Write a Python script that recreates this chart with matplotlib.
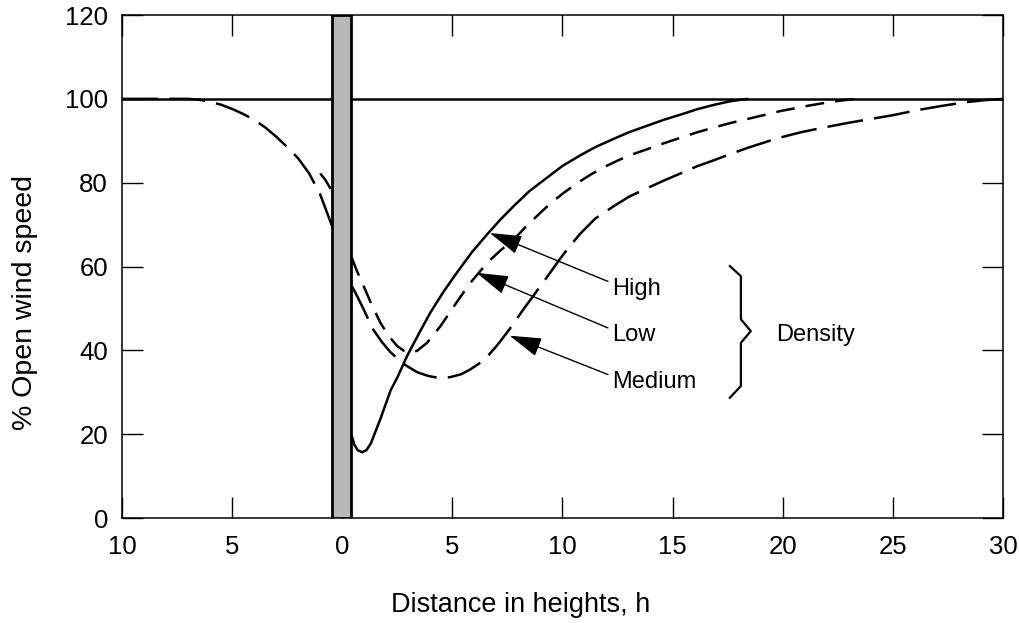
import numpy as np
import matplotlib
matplotlib.use('Agg')
import matplotlib.pyplot as plt

plt.rcParams['font.family'] = ['Liberation Sans', 'DejaVu Sans']
plt.rcParams['lines.scale_dashes'] = False

# windward side (left of the barrier)
medium_wind_x = [-10, -7, -6.5, -6, -5.5, -5, -4.5, -4, -3.5, -3, -2.5, -2, -1.5, -1, -0.45]
medium_wind_y = [100, 100, 99.8, 99.3, 98.6, 97.6, 96.4, 95, 93.2, 91, 88.5, 85.8, 82.2, 77.2, 69.5]
low_wind_x = [-1.0, -0.77, -0.45]
low_wind_y = [82.2, 80.7, 77.8]

# leeward side (right of the barrier)
high_x = [0.44, 0.55, 0.7, 0.9, 1.1, 1.3, 1.5, 1.73, 2.2, 2.5, 2.94, 3.5, 4.0, 4.6, 5.2, 5.9, 6.6, 7.2, 7.8,
          8.5, 9.3, 10.0, 10.8, 11.5, 12.3, 13.0, 13.85, 14.6, 15.4, 16.1, 16.9, 17.6, 18.4]
high_y = [19.5, 17.5, 16.2, 15.7, 16.2, 17.8, 20.5, 23.6, 30.5, 33.5, 38.6, 44.2, 49, 54, 58.5, 63.5, 67.8, 71.3, 74.5,
          78, 81.2, 84, 86.5, 88.5, 90.4, 92, 93.6, 95, 96.3, 97.5, 98.6, 99.4, 100]

low_x = [0.44, 0.67, 1.0, 1.27, 1.73, 2.1, 2.5, 2.8, 3.1, 3.4, 3.85, 4.45, 5.2, 5.8, 6.6, 7.2, 7.8, 8.3, 8.85,
         9.4, 10.06, 10.7, 11.3, 12.0, 12.6, 13.2, 13.85, 14.6, 15.4, 16.1, 16.9, 17.6, 18.4, 19.2, 19.9, 20.6,
         21.2, 22.2, 23.3]
low_y = [62, 58.9, 55, 51.7, 46.6, 43.5, 41, 39.9, 39.4, 39.9, 41.8, 45.7, 51.5, 56, 61, 63.9, 66.5, 69.3, 72.1,
         74.8, 77.6, 80, 82, 84, 85.5, 86.8, 88, 89.4, 90.8, 92, 93.2, 94.2, 95.2, 96.2, 97.1, 97.8,
         98.4, 99.3, 100]

medium_x = [0.44, 0.7, 0.97, 1.4, 1.8, 2.2, 2.8, 3.4, 3.9, 4.3, 4.9, 5.4, 5.8, 6.2, 6.6, 7.0, 7.3, 7.7, 8.2,
            8.55, 9.3, 9.8, 10.2, 10.8, 11.5, 12.3, 13.0, 13.85, 14.6, 15.4, 16.1, 16.9, 17.6, 18.4, 19.76,
            20.8, 21.9, 23.0, 24, 25.0, 26.1, 27.2, 28.3, 29.2, 30]
medium_y = [55.3, 52.7, 49.8, 45, 42, 39.5, 36.7, 34.8, 33.9, 33.5, 33.6, 34.3, 35.4, 36.8, 38.6, 41, 43, 45.8, 49.6,
            52.1, 57.5, 61.2, 64, 67.8, 71.5, 74.3, 76.6, 78.7, 80.5, 82.3, 83.9, 85.4, 86.8, 88.3, 90.6,
            92, 93.2, 94.3, 95.2, 96.1, 97.3, 98.3, 99.2, 99.7, 100]

xticks = [-10, -5, 0, 5, 10, 15, 20, 25, 30]
xtick_labels = ['10', '5', '0', '5', '10', '15', '20', '25', '30']
yticks = [0, 20, 40, 60, 80, 100, 120]

labels = ['High', 'Low', 'Medium']
arrow_tips = [(6.7, 68), (6.1, 58.5), (7.6, 43.5)]
label_y = [53.3, 42.2, 31.1]

fig = plt.figure(figsize=(10.19, 6.23), dpi=100)
ax = fig.add_axes([0.1197, 0.1685, 0.8646, 0.8074])

# barrier
ax.axvspan(-0.45, 0.42, facecolor='#b8b8b8', edgecolor='black', linewidth=2, zorder=3)

ax.axhline(100, color='black', linewidth=1.8, zorder=2)

long_dash = (0, (26, 8))
short_dash = (0, (13.5, 8))
ax.plot(medium_wind_x, medium_wind_y, color='black', lw=1.8, linestyle=long_dash)
ax.plot(low_wind_x, low_wind_y, color='black', lw=1.8, linestyle=short_dash)
ax.plot(high_x, high_y, color='black', lw=1.8, solid_capstyle='round', solid_joinstyle='round')
ax.plot(low_x, low_y, color='black', lw=1.8, linestyle=short_dash)
ax.plot(medium_x, medium_y, color='black', lw=1.8, linestyle=long_dash)

for lab, tip, ly in zip(labels, arrow_tips, label_y):
    ax.annotate(lab, xy=tip, xytext=(12.25, ly), ha='left', va='baseline', fontsize=17,
                arrowprops=dict(arrowstyle='-|>,head_length=1.0,head_width=0.3',
                                mutation_scale=20, color='black', lw=1, relpos=(0, 0.75),
                                shrinkA=1, shrinkB=0))

# brace for "Density"
brace_x = [17.6, 18.1, 18.1, 18.55, 18.1, 18.1, 17.6]
brace_y = [60.1, 57.7, 47.4, 44.6, 41.8, 31.5, 28.7]
ax.plot(brace_x, brace_y, color='black', lw=1.6)
ax.text(19.7, 42.2, 'Density', ha='left', va='baseline', fontsize=17)

ax.set_xlim(-10, 30)
ax.set_ylim(0, 120)
ax.set_xticks(xticks)
ax.set_xticklabels(xtick_labels)
ax.set_yticks(yticks)
ax.tick_params(direction='in', length=15, width=1, top=True, right=True, labelsize=18.5)
ax.tick_params(axis='x', pad=12)
ax.tick_params(axis='y', pad=10)
for s in ax.spines.values():
    s.set_linewidth(1.1)

ax.text(0.452, -0.173, 'Distance in heights, h', transform=ax.transAxes,
        ha='center', va='center', fontsize=19.5)
ax.text(-0.110, 0.429, '% Open wind speed', transform=ax.transAxes,
        ha='center', va='center', rotation=90, fontsize=20.5)

fig.savefig('out.png', dpi=100)
